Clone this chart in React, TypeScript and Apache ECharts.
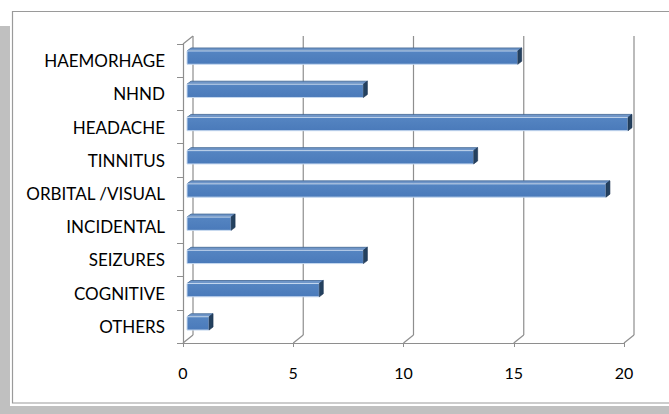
import React, { useEffect, useRef } from "react";
import * as echarts from "echarts";

const categories = [
  "HAEMORHAGE",
  "NHND",
  "HEADACHE",
  "TINNITUS",
  "ORBITAL /VISUAL",
  "INCIDENTAL",
  "SEIZURES",
  "COGNITIVE",
  "OTHERS",
];
const values = [15, 8, 20, 13, 19, 2, 8, 6, 1];
const xTicks = [0, 5, 10, 15, 20];

const FONT = "Lato";
const GRID_COLOR = "#8e8e8e";
const BACK_DX = 10;
const BACK_DY = 8;
const BAR_OFF_X = 4;
const BAR_OFF_Y = 3;
const CAP_DX = 4;
const CAP_DY = 3;

export default function App() {
  const ref = useRef<HTMLDivElement>(null);

  useEffect(() => {
    if (!ref.current) return;
    const chart = echarts.init(ref.current, undefined, { renderer: "svg" });

    const frameRender = (params: any, api: any) => {
      const t = api.value(0);
      const cs = params.coordSys;
      const p = api.coord([t, 0]);
      const x = p[0];
      const bottom = cs.y + cs.height;
      const top = cs.y;
      const style = { stroke: GRID_COLOR, lineWidth: 1.2 };
      const children: any[] = [
        {
          type: "line",
          shape: { x1: x, y1: bottom, x2: x + BACK_DX, y2: bottom - BACK_DY },
          style,
        },
        {
          type: "line",
          shape: {
            x1: x + BACK_DX,
            y1: bottom - BACK_DY,
            x2: x + BACK_DX,
            y2: top - BACK_DY,
          },
          style,
        },
      ];
      if (t === 0) {
        children.push({
          type: "line",
          shape: { x1: x, y1: top, x2: x + BACK_DX, y2: top - BACK_DY },
          style,
        });
      }
      return { type: "group", children };
    };

    const barRender = (params: any, api: any) => {
      const v = api.value(0);
      const i = api.value(1);
      const start = api.coord([0, i]);
      const end = api.coord([v, i]);
      const band = api.size([0, 1])[1];
      const h = band * 0.4;
      const x = start[0] + BAR_OFF_X;
      const w = end[0] - start[0];
      const y = end[1] - BAR_OFF_Y - h / 2;
      return {
        type: "group",
        children: [
          {
            type: "polygon",
            shape: {
              points: [
                [x, y],
                [x + CAP_DX, y - CAP_DY],
                [x + w + CAP_DX, y - CAP_DY],
                [x + w, y],
              ],
            },
            style: { fill: "#6f96c9", stroke: "#3f6592", lineWidth: 0.8 },
          },
          {
            type: "rect",
            shape: { x, y, width: w, height: h },
            style: {
              fill: new echarts.graphic.LinearGradient(0, 0, 0, 1, [
                { offset: 0, color: "#5585c2" },
                { offset: 1, color: "#4a7aba" },
              ]),
              stroke: "#c5d8ef",
              lineWidth: 1,
            },
          },
          {
            type: "polygon",
            shape: {
              points: [
                [x + w, y],
                [x + w + CAP_DX, y - CAP_DY],
                [x + w + CAP_DX, y + h - CAP_DY],
                [x + w, y + h],
              ],
            },
            style: { fill: "#24415f", stroke: "#1b3350", lineWidth: 0.6 },
          },
        ],
      };
    };

    chart.setOption({
      animation: false,
      backgroundColor: "#ffffff",
      graphic: [
        {
          type: "rect",
          shape: { x: 0, y: 26, width: 10, height: 388 },
          style: { fill: "#c0c0c0" },
          silent: true,
        },
        {
          type: "rect",
          shape: { x: 0, y: 406, width: 669, height: 8 },
          style: { fill: "#c0c0c0" },
          silent: true,
        },
        {
          type: "rect",
          shape: { x: 12.5, y: 11.5, width: 700, height: 391.5 },
          style: { fill: "none", stroke: "#9a9a9a", lineWidth: 1.2 },
          silent: true,
        },
      ],
      grid: { left: 183, right: 45, top: 44, bottom: 71 },
      xAxis: {
        type: "value",
        min: 0,
        max: 20,
        interval: 5,
        axisLine: { show: true, lineStyle: { color: GRID_COLOR, width: 1.2 } },
        axisTick: { show: true, length: 4, lineStyle: { color: GRID_COLOR } },
        splitLine: { show: false },
        axisLabel: {
          color: "#000",
          fontFamily: FONT,
          fontSize: 16,
          margin: 21,
        },
      },
      yAxis: {
        type: "category",
        data: categories,
        inverse: true,
        axisLine: { show: true, lineStyle: { color: GRID_COLOR, width: 1.2 } },
        axisTick: { show: true, length: 6, lineStyle: { color: GRID_COLOR } },
        splitLine: { show: false },
        axisLabel: {
          color: "#000",
          fontFamily: FONT,
          fontSize: 17,
          margin: 18,
        },
      },
      series: [
        {
          type: "custom",
          name: "frame",
          coordinateSystem: "cartesian2d",
          renderItem: frameRender,
          data: xTicks.map((t) => [t, 0]),
          encode: { x: 0, y: 1 },
          z: 1,
          silent: true,
        },
        {
          type: "custom",
          name: "values",
          coordinateSystem: "cartesian2d",
          renderItem: barRender,
          data: values.map((v, i) => [v, i]),
          encode: { x: 0, y: 1 },
          z: 3,
        },
      ],
    });

    return () => chart.dispose();
  }, []);

  return (
    <div
      ref={ref}
      style={{ position: "fixed", left: 0, top: 0, width: 669, height: 414 }}
    />
  );
}
